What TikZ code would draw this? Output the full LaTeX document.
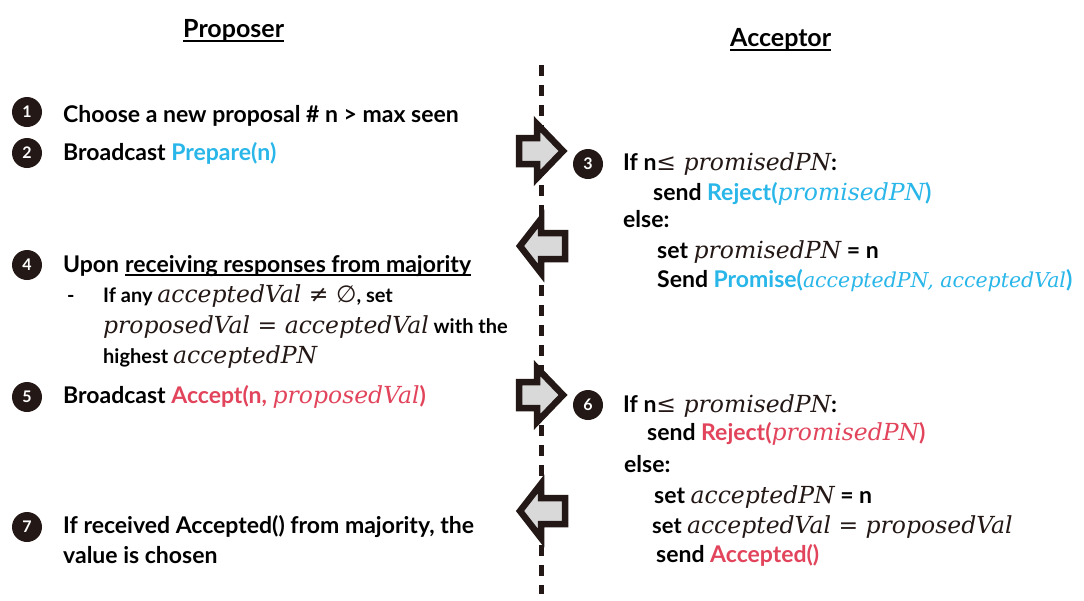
\documentclass[tikz,border=0pt]{standalone}
\usepackage{fontspec}
\setmainfont{Lato}
\newfontfamily\mfont{DejaVu Serif}
\newfontfamily\symfont{DejaVu Sans}
\newcommand\mv[1]{{\mfont\mdseries\itshape\fontsize{23.5}{28}\selectfont #1}}
\newcommand\mvs[1]{{\mfont\mdseries\itshape\fontsize{20.5}{26}\selectfont #1}}
\newcommand\mvk[1]{\textcolor{dk}{\mv{#1}}}
\newcommand\mup[1]{{\upshape #1}}
\newcommand\myempty{{\symfont\mdseries\upshape ∅}}
\definecolor{dk}{HTML}{231815}
\definecolor{bl}{HTML}{29B6E9}
\definecolor{rd}{HTML}{E2445C}
\definecolor{gr}{HTML}{D9D9D9}
\tikzset{
  num/.style={circle, fill=dk, text=white, minimum size=30pt, inner sep=0pt, font=\bfseries\fontsize{16}{16}\selectfont},
  txt/.style={anchor=base west, inner sep=0pt, font=\bfseries\fontsize{23}{28}\selectfont},
  sub/.style={anchor=base west, inner sep=0pt, font=\bfseries\fontsize{20}{24}\selectfont},
  subb/.style={anchor=base west, inner sep=0pt, font=\bfseries\fontsize{22}{26}\selectfont},
  hdr/.style={anchor=base west, inner sep=0pt, font=\bfseries\fontsize{25}{30}\selectfont},
  ulin/.style={draw=black, line width=1.8pt},
  blk/.style={draw=dk, fill=gr, line width=6.5pt, line join=miter, miter limit=10},
  lifeline/.style={draw=dk, line width=5pt, dash pattern=on 11pt off 9pt},
  rarrow/.pic={\path[blk] (519,-13) -- (537,-13) -- (537,-27) -- (563,0) -- (537,27) -- (537,13) -- (519,13) -- cycle;},
  larrow/.pic={\path[blk] (520,0) -- (541,-27) -- (541,-13) -- (565,-13) -- (565,13) -- (541,13) -- (541,27) -- cycle;}
}
\begin{document}
\begin{tikzpicture}[x=1pt, y=-1pt]
\fill[white] (0,0) rectangle (1084,600);
\useasboundingbox (0,0) rectangle (1084,600);

% lifeline
\coordinate (ltop) at (541,65);
\coordinate (lbot) at (541,594);
\draw[lifeline] (ltop) -- (lbot);

% block arrows
\pic at (0,151) {rarrow};
\pic at (0,246) {larrow};
\pic at (0,395) {rarrow};
\pic at (0,511) {larrow};

% headers
\node[hdr] (hp) at (183,37) {Proposer};
\draw[ulin] ([yshift=-4pt]hp.base west) -- ([yshift=-4pt]hp.base east);
\node[hdr] (ha) at (730,46) {Acceptor};
\draw[ulin] ([yshift=-4pt]ha.base west) -- ([yshift=-4pt]ha.base east);

% proposer side
\node[num] (n1) at (27,112) {1};
\node[txt] (t1) at (63,122) {Choose a new proposal \# n > max seen};
\node[num] (n2) at (27,153) {2};
\node[txt] (t2) at (63,160) {Broadcast \textcolor{bl}{Prepare(n)}};
\node[num] (n4) at (27,265) {4};
\node[txt] (t4) at (63,272) {Upon};
\node[txt] (t4u) at (125,272) {receiving responses from majority};
\draw[ulin] ([yshift=-3pt]t4u.base west) -- ([yshift=-3pt]t4u.base east);
\node[sub] (dsh) at (67,302) {-};
\node[sub] (s1) at (103,302) {If any \mvk{acceptedVal \mup{≠} \myempty}, set};
\node[sub] (s2) at (103,333) {\mvk{proposedVal \mup{=} acceptedVal} with the};
\node[sub] (s3) at (103,363) {highest \mvk{acceptedPN}};
\node[num] (n5) at (27,397) {5};
\node[txt] (t5) at (63,403) {Broadcast \textcolor{rd}{Accept(n, \mv{proposedVal})}};
\node[num] (n7) at (27,527) {7};
\node[txt] (t7a) at (63,533) {If received Accepted() from majority, the};
\node[txt] (t7b) at (63,563) {value is chosen};

% acceptor side
\node[num] (n3) at (588,164) {3};
\node[txt] (r1) at (623,170) {If n\mvk{\mup{≤} promisedPN}:};
\node[txt] (r2) at (653,200) {send \textcolor{bl}{Reject(\mv{promisedPN})}};
\node[txt] (r3) at (623,227) {else:};
\node[txt] (r4) at (657,258) {set \mvk{promisedPN} = n};
\node[txt] (r5) at (657,287) {Send \textcolor{bl}{Promise(\mvs{acceptedPN, acceptedVal})}};
\node[num] (n6) at (588,405) {6};
\node[txt] (q1) at (623,412) {If n\mvk{\mup{≤} promisedPN}:};
\node[txt] (q2) at (647,440) {send \textcolor{rd}{Reject(\mv{promisedPN})}};
\node[txt] (q3) at (624,472) {else:};
\node[txt] (q4) at (654,503) {set \mvk{acceptedPN} = n};
\node[subb] (q5) at (652,533) {set \mvk{acceptedVal \mup{=} proposedVal}};
\node[txt] (q6) at (656,562) {send \textcolor{rd}{Accepted()}};
\end{tikzpicture}
\end{document}
